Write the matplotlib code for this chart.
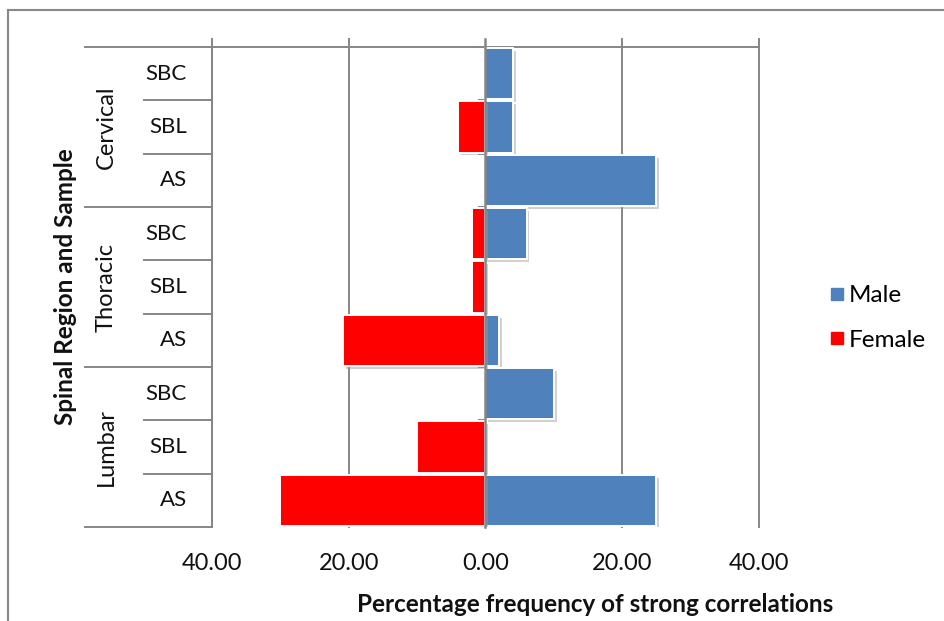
import matplotlib
matplotlib.use("Agg")
import matplotlib.pyplot as plt
import matplotlib.patheffects as pe
from matplotlib.lines import Line2D
from matplotlib.ticker import FuncFormatter

# Rows from top to bottom
regions = ["Cervical", "Thoracic", "Lumbar"]
samples = ["SBC", "SBL", "AS"]
male = [4.0, 4.0, 25.0, 6.0, 0.0, 2.0, 10.0, 0.0, 25.0]
female = [0.0, 4.0, 0.0, 2.0, 2.0, 20.8, 0.0, 10.0, 30.0]
x_ticks = [-40, -20, 0, 20, 40]

BLUE = "#4F81BD"
RED = "#FF0000"
GRID = "#868686"
FONT = ["Lato", "DejaVu Sans"]

plt.rcParams["font.family"] = FONT

W, H = 945, 621
fig = plt.figure(figsize=(W / 100, H / 100), dpi=100)

# axes placement in pixels
L, R, T, B = 212, 759, 47, 527
ax = fig.add_axes([L / W, 1 - B / H, (R - L) / W, (B - T) / H])
ax.set_xlim(-40, 40)
n = len(male)
ax.set_ylim(n - 0.5, -0.5)
for s in ax.spines.values():
    s.set_visible(False)

rows = list(range(n))
shadow = [pe.SimplePatchShadow(offset=(2, -2), shadow_rgbFace="#999999", alpha=0.45), pe.Normal()]
ax.barh(rows, male, height=0.96, color=BLUE, edgecolor="white", linewidth=1.4,
        zorder=3, path_effects=shadow, label="Male")
ax.barh(rows, [-v for v in female], height=0.96, color=RED, edgecolor="white", linewidth=1.4,
        zorder=3, path_effects=shadow, label="Female")

# vertical gridlines, poking slightly above the top axis line
xt = ax.get_xaxis_transform()
top_ext = 1 + 8 / (B - T)
for v in x_ticks:
    if v == 0:
        continue
    ax.plot([v, v], [0, top_ext], transform=xt, color=GRID, lw=1.4, zorder=1, clip_on=False)

# zero axis with small category ticks
ax.plot([0, 0], [0, top_ext], transform=xt, color=GRID, lw=1.8, zorder=4, clip_on=False)
for k in range(n + 1):
    ax.plot([-1.0, 0], [k - 0.5, k - 0.5], color=GRID, lw=1.4, zorder=2)

# category axis on the left: separators and labels
yt = ax.get_yaxis_transform()
x_far = (85 - L) / (R - L)
x_mid = (144 - L) / (R - L)
ax.plot([x_far, 1], [-0.5, -0.5], transform=yt, color=GRID, lw=1.4, clip_on=False, zorder=1)
ax.plot([0, 0], [-0.5, n - 0.5], transform=yt, color=GRID, lw=1.4, clip_on=False, zorder=1)
for k in range(1, n + 1):
    x0 = x_far if k % 3 == 0 else x_mid
    ax.plot([x0, 0], [k - 0.5, k - 0.5], transform=yt, color=GRID, lw=1.4, clip_on=False)

x_sample = (187 - L) / (R - L)
x_region = (106 - L) / (R - L)
for i in range(n):
    ax.text(x_sample, i, samples[i % 3], transform=yt, ha="right", va="center",
            fontsize=16, color="#111111")
for j, reg in enumerate(regions):
    ax.text(x_region, 3 * j + 1, reg, transform=yt, ha="center", va="center",
            rotation=90, fontsize=17, color="#111111")

ax.text((66 - L) / (R - L), 0.5, "Spinal Region and Sample", transform=ax.transAxes,
        rotation=90, ha="center", va="center", fontsize=17.5, fontweight="bold",
        color="#111111")

# x ticks
ax.set_yticks([])
ax.set_xticks(x_ticks)
ax.xaxis.set_major_formatter(FuncFormatter(lambda v, p: f"{abs(v):.2f}"))
ax.tick_params(axis="x", length=0, pad=19, labelsize=17, labelcolor="#111111")
ax.set_xlabel("Percentage frequency of strong correlations", fontsize=17.5,
              fontweight="bold", color="#111111")
ax.xaxis.set_label_coords((595 - L) / (R - L), -(605 - B) / (B - T))
ax.xaxis.label.set_va("center")

# legend
leg = fig.legend(handles=[
    Line2D([], [], marker="s", ls="", color=BLUE, markersize=9, label="Male"),
    Line2D([], [], marker="s", ls="", color=RED, markersize=9, label="Female")],
    loc="center left", bbox_to_anchor=(803 / W, 1 - 318 / H), frameon=False,
    fontsize=17.5, handletextpad=0.0, labelspacing=0.95, handlelength=1.0)

# outer chart frame
fig.add_artist(Line2D([8 / W, 8 / W], [0, 1 - 10 / H], color="#888888", lw=1.5))
fig.add_artist(Line2D([8 / W, 1], [1 - 10 / H, 1 - 10 / H], color="#888888", lw=1.5))

fig.savefig("out.png", dpi=100)
